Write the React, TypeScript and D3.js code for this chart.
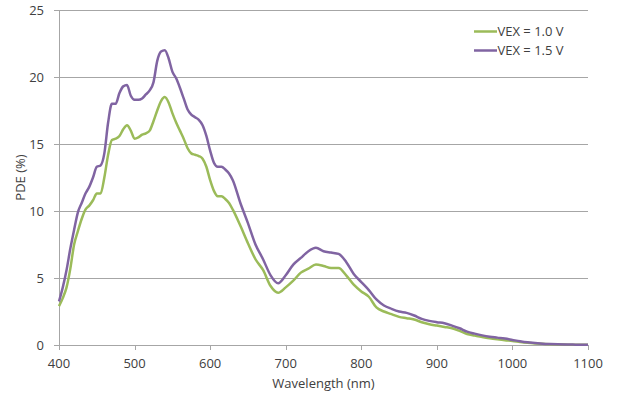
import * as d3 from "d3";
import { useRef, useEffect } from "react";

// wavelength samples (nm)
const wavelengths = [
  400, 405, 410, 415, 420, 425, 430, 435, 440, 445, 450, 455, 460, 465, 470, 475, 480, 485, 490, 495,
  500, 505, 510, 515, 520, 525, 530, 535, 540, 545, 550, 555, 560, 565, 570, 575, 580, 585, 590, 595,
  600, 605, 610, 615, 620, 625, 630, 640, 650, 660, 670, 680, 690, 700, 710, 720, 730, 740, 750, 760,
  770, 780, 790, 800, 810, 820, 830, 840, 850, 860, 870, 880, 890, 900, 910, 920, 930, 940, 950, 960,
  970, 980, 990, 1000, 1010, 1020, 1030, 1040, 1050, 1060, 1070, 1080, 1090, 1100,
];

// PDE (%) at VEX = 1.0 V
const pde10 = [
  2.9, 3.5, 4.3, 5.7, 7.5, 8.5, 9.4, 10.1, 10.4, 10.8, 11.3, 11.3, 12.5, 14.2, 15.3, 15.4, 15.6, 16.1, 16.4, 16.0,
  15.4, 15.5, 15.7, 15.8, 16.0, 16.7, 17.5, 18.2, 18.5, 18.1, 17.3, 16.6, 16.0, 15.4, 14.7, 14.3, 14.2, 14.1, 13.9, 13.3,
  12.3, 11.5, 11.1, 11.1, 10.9, 10.6, 10.1, 8.9, 7.6, 6.4, 5.6, 4.4, 3.9, 4.3, 4.8, 5.4, 5.7, 6.0, 5.9, 5.75,
  5.75, 5.2, 4.5, 4.0, 3.6, 2.8, 2.5, 2.3, 2.1, 2.0, 1.9, 1.7, 1.55, 1.45, 1.35, 1.25, 1.05, 0.82, 0.7, 0.6,
  0.5, 0.42, 0.35, 0.3, 0.22, 0.16, 0.12, 0.09, 0.06, 0.04, 0.03, 0.02, 0.02, 0.02,
];

// PDE (%) at VEX = 1.5 V
const pde15 = [
  3.25, 4.3, 5.6, 7.2, 8.6, 9.9, 10.6, 11.3, 11.8, 12.5, 13.3, 13.4, 14.3, 16.6, 18.0, 18.0, 18.8, 19.3, 19.4, 18.6,
  18.3, 18.3, 18.4, 18.7, 19.0, 19.6, 21.2, 21.9, 22.0, 21.4, 20.4, 19.9, 19.2, 18.4, 17.6, 17.2, 17.0, 16.8, 16.4, 15.6,
  14.5, 13.6, 13.3, 13.3, 13.1, 12.8, 12.3, 10.6, 9.1, 7.5, 6.4, 5.2, 4.6, 5.2, 6.0, 6.5, 7.0, 7.25, 7.0, 6.9,
  6.8, 6.2, 5.3, 4.7, 4.1, 3.4, 2.95, 2.7, 2.5, 2.4, 2.2, 1.95, 1.8, 1.7, 1.62, 1.45, 1.25, 1.0, 0.85, 0.72,
  0.62, 0.55, 0.48, 0.38, 0.28, 0.2, 0.15, 0.1, 0.07, 0.05, 0.04, 0.03, 0.02, 0.02,
];

const seriesNames = ["VEX = 1.0 V", "VEX = 1.5 V"];
const seriesColors = ["#9bbb59", "#8064a2"];
const xTicks = [400, 500, 600, 700, 800, 900, 1000, 1100];
const yTicks = [0, 5, 10, 15, 20, 25];

export default function App() {
  const svgRef = useRef<SVGSVGElement>(null);

  useEffect(() => {
    const svg = d3.select(svgRef.current);
    svg.selectAll("*").remove();

    const font = "'Open Sans', sans-serif";
    const left = 59, right = 588, top = 10, bottom = 345;

    const x = d3.scaleLinear().domain([400, 1100]).range([left, right]);
    const y = d3.scaleLinear().domain([0, 25]).range([bottom, top]);

    // horizontal gridlines with small ticks left of the axis
    svg.append("g").selectAll("line").data(yTicks).enter().append("line")
      .attr("x1", left - 5).attr("x2", right)
      .attr("y1", d => y(d) + 0.5).attr("y2", d => y(d) + 0.5)
      .attr("stroke", "#a6a6a6").attr("stroke-width", 1);

    // left axis line
    svg.append("line").attr("x1", left + 0.5).attr("x2", left + 0.5).attr("y1", top).attr("y2", bottom + 0.5)
      .attr("stroke", "#a6a6a6").attr("stroke-width", 1);

    // x ticks below the axis
    svg.append("g").selectAll("line").data(xTicks).enter().append("line")
      .attr("x1", d => Math.round(x(d)) + 0.5).attr("x2", d => Math.round(x(d)) + 0.5)
      .attr("y1", bottom).attr("y2", bottom + 5)
      .attr("stroke", "#a6a6a6").attr("stroke-width", 1);

    // y tick labels
    svg.append("g").selectAll("text").data(yTicks).enter().append("text")
      .attr("x", 44).attr("y", d => y(d)).attr("dy", "0.35em").attr("text-anchor", "end")
      .attr("fill", "#404040").style("font-family", font).style("font-size", "13px")
      .text(d => d);

    // x tick labels
    svg.append("g").selectAll("text").data(xTicks).enter().append("text")
      .attr("x", d => x(d)).attr("y", 368).attr("text-anchor", "middle")
      .attr("fill", "#404040").style("font-family", font).style("font-size", "13px")
      .text(d => d);

    // axis titles
    svg.append("text").attr("x", (left + right) / 2).attr("y", 387.5).attr("text-anchor", "middle")
      .attr("fill", "#404040").style("font-family", font).style("font-size", "13px").text("Wavelength (nm)");
    svg.append("text").attr("transform", "rotate(-90)").attr("x", -(top + bottom) / 2).attr("y", 25)
      .attr("text-anchor", "middle").attr("fill", "#404040").style("font-family", font).style("font-size", "13px")
      .text("PDE (%)");

    // series lines
    const line = d3.line<number>()
      .x((_, i) => x(wavelengths[i]))
      .y(d => y(d))
      .curve(d3.curveMonotoneX);

    [pde10, pde15].forEach((vals, i) => {
      svg.append("path").datum(vals).attr("d", line).attr("fill", "none")
        .attr("stroke", seriesColors[i]).attr("stroke-width", 2.5).attr("stroke-linejoin", "round");
    });

    // legend
    const legend = svg.append("g").selectAll("g").data(seriesNames).enter().append("g")
      .attr("transform", (_, i) => `translate(474,${31.5 + i * 19})`);
    legend.append("line").attr("x1", 0).attr("x2", 23).attr("y1", 0).attr("y2", 0)
      .attr("stroke", (_, i) => seriesColors[i]).attr("stroke-width", 2.5);
    legend.append("text").attr("x", 23.5).attr("y", 0).attr("dy", "0.35em")
      .attr("fill", "#404040").style("font-family", font).style("font-size", "13px")
      .text(d => d);
  }, []);

  return (
    <svg ref={svgRef} width={619} height={394}
      style={{ position: "absolute", left: 0, top: 0, background: "#fff" }} />
  );
}
